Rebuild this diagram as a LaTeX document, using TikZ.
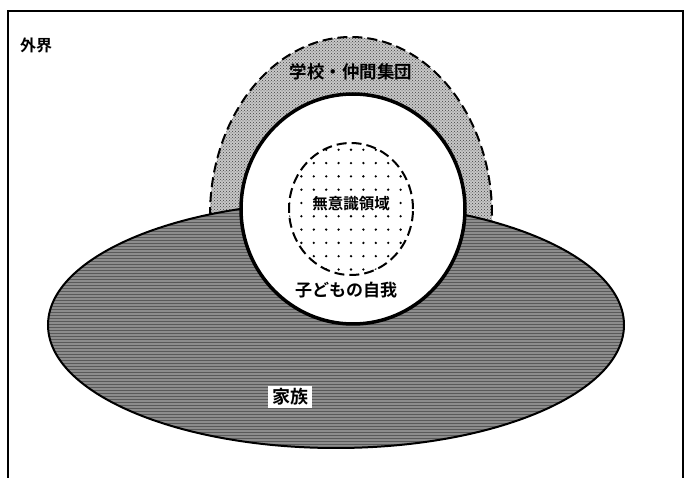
\documentclass[tikz,border=0pt]{standalone}
\usepackage{fontspec}
\newfontfamily\jp{Noto Sans CJK JP}[BoldFont={Noto Sans CJK JP Bold}]
\usetikzlibrary{patterns}
\tikzset{
  lbl/.style={font=\jp\bfseries, inner sep=1pt},
  bigdash/.style={line width=2pt, dash pattern=on 10pt off 5pt},
}
\begin{document}
\begin{tikzpicture}[x=1pt,y=-1pt]
\useasboundingbox (0,0) rectangle (689,478);
% frame
\draw[line width=2.5pt] (8,490) -- (8,11) -- (683,11) -- (683,490);
\node[lbl, font=\jp\bfseries\fontsize{16}{16}\selectfont] (outer) at (36,45) {外界};
% school arch
\path[fill=black!22] (351,215) ellipse [x radius=141pt, y radius=178pt];
\path[pattern=crosshatch dots, pattern color=black!75] (351,215) ellipse [x radius=141pt, y radius=178pt];
\draw[bigdash] (351,215) ellipse [x radius=141pt, y radius=178pt];
% family ellipse
\path[fill=black!45] (336,325) ellipse [x radius=288pt, y radius=123pt];
\path[pattern=horizontal lines, pattern color=black!65] (336,325) ellipse [x radius=288pt, y radius=123pt];
\draw[line width=2pt] (336,325) ellipse [x radius=288pt, y radius=123pt];
% ego circle
\draw[line width=3.5pt, fill=white] (353,209) ellipse [x radius=112pt, y radius=115pt];
% unconscious
\begin{scope}
\clip (351,209) ellipse [x radius=62pt, y radius=66pt];
\foreach \i in {-5,...,5} {\foreach \j in {-6,...,6} {
  \fill (351+12.4*\i, 203+13.3*\j) circle [radius=1.3pt];
}}
\end{scope}
\draw[bigdash] (351,209) ellipse [x radius=62pt, y radius=66pt];
% labels
\node[lbl, font=\jp\bfseries\fontsize{17.5}{17.5}\selectfont] (school) at (351,72) {学校・仲間集団};
\node[lbl, font=\jp\bfseries\fontsize{15.5}{15.5}\selectfont, fill=white] (uncon) at (351,204) {無意識領域};
\node[lbl, font=\jp\bfseries\fontsize{17}{17}\selectfont, fill=white] (ego) at (346,290) {子どもの自我};
\node[lbl, font=\jp\bfseries\fontsize{18}{18}\selectfont, fill=white, inner xsep=4pt, inner ysep=3pt] (family) at (290,397) {家族};
\end{tikzpicture}
\end{document}
